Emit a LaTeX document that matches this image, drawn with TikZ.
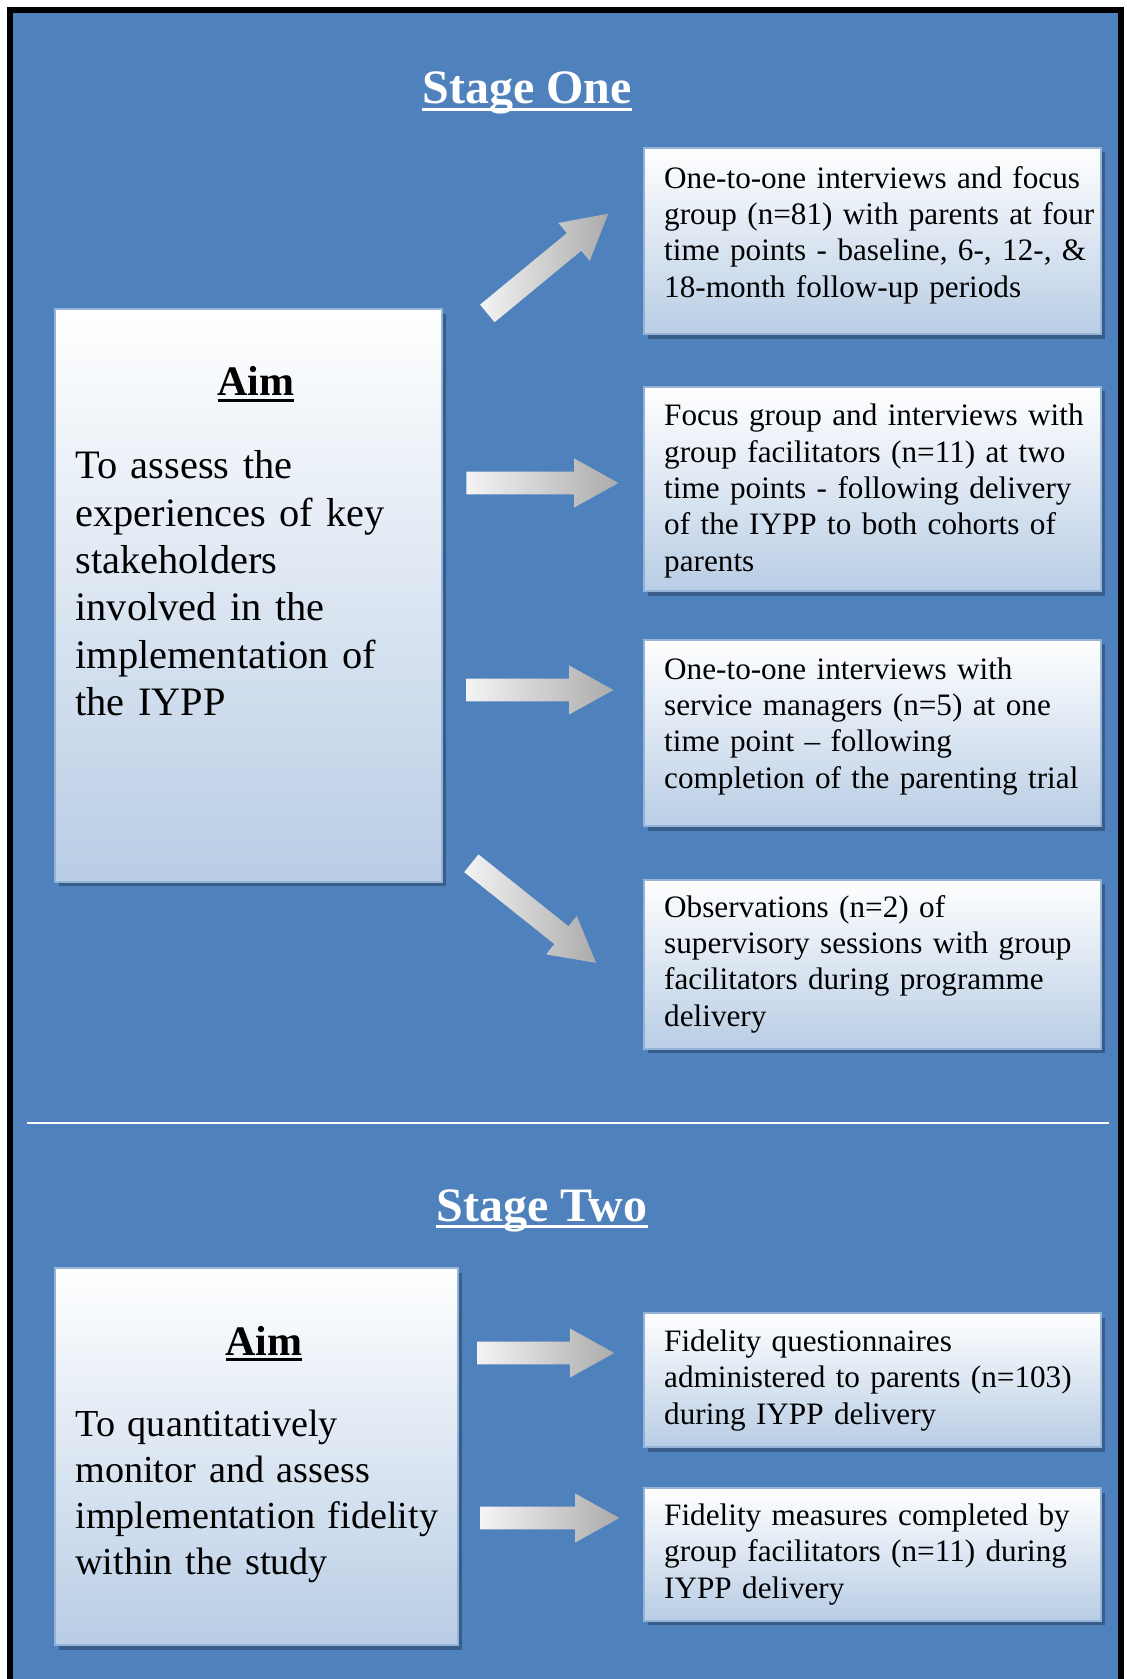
\documentclass[tikz,border=0pt]{standalone}
\usepackage{fontspec}
\setmainfont{Liberation Serif}
\usetikzlibrary{shapes.arrows,shadows}

\definecolor{bgblue}{HTML}{4F81BD}
\definecolor{boxedge}{HTML}{95B3D7}
\definecolor{boxbot}{HTML}{B9CDE5}
\definecolor{shadowblue}{HTML}{385D8A}
\definecolor{arrowlight}{HTML}{F4F4F4}
\definecolor{arrowdark}{HTML}{ABABAB}

% underline drawn at a fixed distance below the baseline
\newcommand\ulined[1]{\setbox0\hbox{#1}\rlap{\rule[-0.15em]{\wd0}{0.075em}}\box0}

\begin{document}
\begin{tikzpicture}[x=0.5pt,y=-0.5pt,
  panel/.style={draw=boxedge, line width=1pt, top color=white, bottom color=boxbot,
    drop shadow={shadow xshift=2pt, shadow yshift=-2.3pt, fill=shadowblue, opacity=1},
    inner sep=0pt, anchor=north west},
  itemtext/.style={inner sep=0pt, anchor=west, align=left, text width=222pt,
    font=\fontsize{15.6pt}{18.2pt}\selectfont},
  aimhead/.style={inner sep=0pt, anchor=base, font=\fontsize{21pt}{24pt}\selectfont\bfseries},
  aimtext/.style={inner sep=0pt, anchor=base west, align=left, text width=200pt},
  stagetitle/.style={inner sep=0pt, anchor=base, text=white,
    font=\fontsize{24pt}{28pt}\selectfont\bfseries},
  blockarrow/.style={single arrow, draw=none, inner xsep=0pt, inner ysep=5.5pt,
    minimum width=24.2pt, single arrow head extend=6.6pt, single arrow tip angle=58,
    left color=arrowlight, right color=arrowdark, anchor=tail}]

\useasboundingbox (0,0) rectangle (1127,1679);
% page, black frame and blue field
\fill[white] (0,0) rectangle (1127,1679);
\fill[black] (7,7) rectangle (1124,1679);
\fill[bgblue] (13,13) rectangle (1118,1679);

% ---------------- Stage One ----------------
\node[stagetitle] (s1) at (527,104) {\ulined{Stage One}};

\node[panel, minimum width=193.9pt, minimum height=286.05pt] (aim1) at (53.6,308.5) {};
\node[aimhead] (h1) at (256,396) {\ulined{Aim}};
\node[aimtext, font=\fontsize{20.2pt}{23.65pt}\selectfont] (d1) at (75,479)
  {To assess the\\experiences of key\\stakeholders\\involved in the\\implementation of\\the IYPP};

\node[panel, minimum width=228.6pt, minimum height=93.2pt] (b1) at (642.8,146.8) {};
\node[itemtext] (t1) at ([xshift=10.5pt,yshift=3pt]b1.west)
  {One-to-one interviews and focus\\group (n=81) with parents at four\\time points - baseline, 6-, 12-, \&\\18-month follow-up periods};

\node[panel, minimum width=228.6pt, minimum height=102.3pt] (b2) at (642.8,385.7) {};
\node[itemtext] (t2) at ([xshift=10.5pt,yshift=-1pt]b2.west)
  {Focus group and interviews with\\group facilitators (n=11) at two\\time points - following delivery\\of the IYPP to both cohorts of\\parents};

\node[panel, minimum width=228.6pt, minimum height=93.25pt] (b3) at (642.8,638.5) {};
\node[itemtext] (t3) at ([xshift=10.5pt,yshift=3.3pt]b3.west)
  {One-to-one interviews with\\service managers (n=5) at one\\time point – following\\completion of the parenting trial};

\node[panel, minimum width=228.6pt, minimum height=84.6pt] (b4) at (642.8,878.5) {};
\node[itemtext] (t4) at ([xshift=10.5pt]b4.west)
  {Observations (n=2) of\\supervisory sessions with group\\facilitators during programme\\delivery};

% block arrows, each placed by the middle of its tail
\node[blockarrow, minimum height=78.4pt, rotate=39.5] (a1) at (487,313.7) {};
\node[blockarrow, minimum height=76pt] (a2) at (466,483) {};
\node[blockarrow, minimum height=73.5pt] (a3) at (466,690) {};
\node[blockarrow, minimum height=79.85pt, rotate=-38.6] (a4) at (471,863) {};

% separator
\coordinate (sepL) at (27,1123);
\coordinate (sepR) at (1109,1123);
\draw[white, line width=1.2pt] (sepL) -- (sepR);

% ---------------- Stage Two ----------------
\node[stagetitle] (s2) at (542,1221) {\ulined{Stage Two}};

\node[panel, minimum width=201.9pt, minimum height=188.55pt] (aim2) at (53.6,1267.3) {};
\node[aimhead] (h2) at (264,1355) {\ulined{Aim}};
\node[aimtext, font=\fontsize{19.1pt}{23pt}\selectfont] (d2) at (75,1436.6)
  {To quantitatively\\monitor and assess\\implementation fidelity\\within the study};

\node[panel, minimum width=228.6pt, minimum height=67pt] (b5) at (642.8,1312.3) {};
\node[itemtext] (t5) at ([xshift=10.5pt]b5.west)
  {Fidelity questionnaires\\administered to parents (n=103)\\during IYPP delivery};

\node[panel, minimum width=228.6pt, minimum height=66.4pt] (b6) at (642.8,1487) {};
\node[itemtext] (t6) at ([xshift=10.5pt]b6.west)
  {Fidelity measures completed by\\group facilitators (n=11) during\\IYPP delivery};

\node[blockarrow, minimum height=68.6pt] (a5) at (476.7,1353) {};
\node[blockarrow, minimum height=69.5pt] (a6) at (480,1518) {};
\end{tikzpicture}
\end{document}
